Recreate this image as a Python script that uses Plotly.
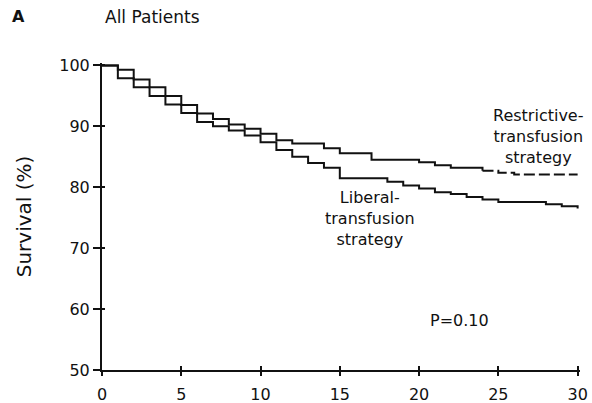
import plotly.graph_objects as go

# ---- data ----
restrictive_days = [0, 1, 2, 3, 4, 5, 6, 7, 8, 9, 10, 11, 12, 14, 15, 17, 20, 21, 22, 24, 25, 26, 30]
restrictive_surv = [100, 99.3, 97.7, 96.4, 95.0, 93.5, 92.1, 91.2, 90.3, 89.6, 88.8, 87.7, 87.2,
                    86.4, 85.6, 84.5, 84.1, 83.6, 83.2, 82.7, 82.4, 82.1, 82.1]
liberal_days = [0, 1, 2, 3, 4, 5, 6, 7, 8, 9, 10, 11, 12, 13, 14, 15, 18, 19, 20, 21, 22, 23,
                24, 25, 28, 29, 30]
liberal_surv = [100, 97.9, 96.4, 95.0, 93.6, 92.2, 90.7, 90.0, 89.3, 88.5, 87.4, 86.1, 85.0,
                84.0, 83.2, 81.5, 80.9, 80.3, 79.8, 79.2, 78.9, 78.4, 78.0, 77.6, 77.2, 76.9, 76.5]
x_ticks = [0, 5, 10, 15, 20, 25, 30]
y_ticks = [50, 60, 70, 80, 90, 100]
dash_from_day = 24

FONT = "DejaVu Sans"
BLACK = "#111111"

split = restrictive_days.index(dash_from_day)

fig = go.Figure()
fig.add_trace(go.Scatter(x=liberal_days, y=liberal_surv, mode="lines",
                         line=dict(color=BLACK, width=2, shape="hv"), showlegend=False))
fig.add_trace(go.Scatter(x=restrictive_days[:split + 1], y=restrictive_surv[:split + 1], mode="lines",
                         line=dict(color=BLACK, width=2, shape="hv"), showlegend=False))
fig.add_trace(go.Scatter(x=restrictive_days[split:], y=restrictive_surv[split:], mode="lines",
                         line=dict(color=BLACK, width=2, shape="hv", dash="11px,4px"), showlegend=False))
# empty trace so the overlaid tick-only axes get drawn (gives ticks crossing the axis lines)
fig.add_trace(go.Scatter(x=[], y=[], xaxis="x2", yaxis="y2", mode="lines",
                         showlegend=False, hoverinfo="skip"))

xr = [0, 30.15]
yr = [50, 100.4]

fig.update_layout(
    width=592, height=403,
    margin=dict(l=102, r=12, t=63, b=33),
    paper_bgcolor="white", plot_bgcolor="white",
    font=dict(family=FONT, size=16, color=BLACK),
    xaxis=dict(range=xr, tickvals=x_ticks, ticks="outside", ticklen=4, tickwidth=2,
               tickcolor=BLACK, showline=True, linecolor=BLACK, linewidth=2,
               showgrid=False, zeroline=False, tickfont=dict(size=16, family=FONT),
               ticklabelstandoff=5, automargin=False),
    yaxis=dict(range=yr, tickvals=y_ticks, ticks="outside", ticklen=7, tickwidth=2,
               tickcolor=BLACK, showline=True, linecolor=BLACK, linewidth=2,
               showgrid=False, zeroline=False, tickfont=dict(size=16, family=FONT),
               title=dict(text="Survival (%)", font=dict(size=20, family=FONT), standoff=22)),
    xaxis2=dict(range=xr, tickvals=x_ticks, ticks="inside", ticklen=4, tickwidth=2,
                tickcolor=BLACK, showticklabels=False, showline=False, showgrid=False,
                zeroline=False, overlaying="x", anchor="y2", side="bottom"),
    yaxis2=dict(range=yr, tickvals=y_ticks, ticks="inside", ticklen=3, tickwidth=2,
                tickcolor=BLACK, showticklabels=False, showline=False, showgrid=False,
                zeroline=False, overlaying="y", anchor="x2", side="left"),
)

ann = dict(showarrow=False, font=dict(family=FONT, size=16, color=BLACK))
fig.add_annotation(text="<b>A</b>", x=-0.174, y=1.15, xref="paper", yref="paper",
                   xanchor="center", yanchor="middle", **ann)
fig.add_annotation(text="All Patients", x=0.002, y=1.15, xref="paper", yref="paper",
                   xanchor="left", yanchor="middle",
                   showarrow=False, font=dict(family=FONT, size=17, color=BLACK))
fig.add_annotation(text="Restrictive-<br>transfusion<br>strategy", x=27.5, y=88.4, xref="x", yref="y",
                   xanchor="center", yanchor="middle", align="center", **ann)
fig.add_annotation(text="Liberal-<br>transfusion<br>strategy", x=16.9, y=74.9, xref="x", yref="y",
                   xanchor="center", yanchor="middle", align="center", **ann)
fig.add_annotation(text="P=0.10", x=22.55, y=58.2, xref="x", yref="y",
                   xanchor="center", yanchor="middle", **ann)

fig.write_html("out.html")
